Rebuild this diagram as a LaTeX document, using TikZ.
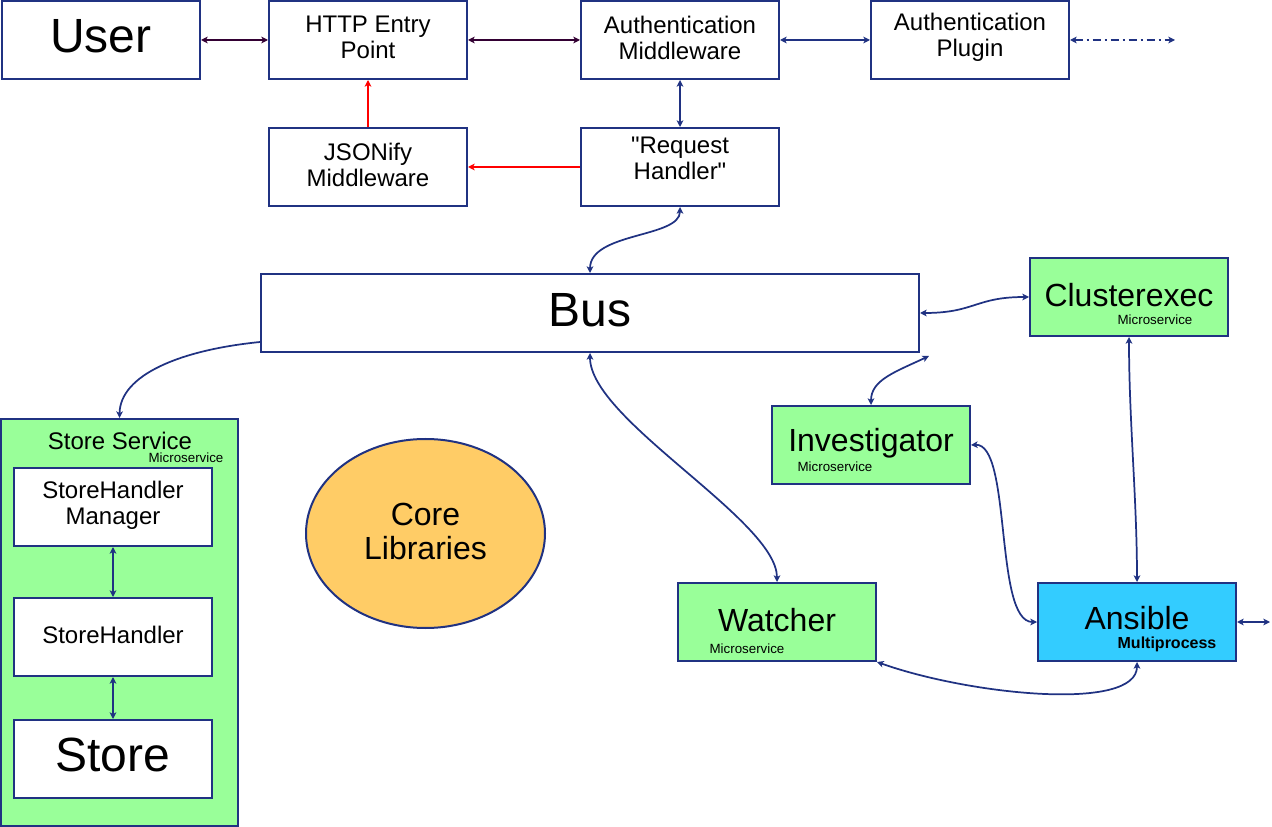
\documentclass[tikz,border=0pt]{standalone}
\usepackage{fontspec}
\setmainfont{Liberation Sans}
\newfontfamily\plainsans{Liberation Sans}
\usetikzlibrary{arrows.meta,shapes.geometric}
\definecolor{navy}{HTML}{203282}
\definecolor{darkpurple}{HTML}{330033}
\definecolor{boxgreen}{HTML}{99FF99}
\definecolor{boxcyan}{HTML}{33CCFF}
\definecolor{boxorange}{HTML}{FFCC66}
\begin{document}
\begin{tikzpicture}[x=0.75pt,y=-0.75pt,
  >={Stealth[length=5pt,width=5pt,inset=1.3pt]},
  box/.style={draw=navy,line width=1.5pt,fill=white,minimum width=148.5pt,minimum height=58.5pt,inner sep=0pt,align=center,font=\fontsize{18pt}{19.5pt}\selectfont},
  bigtext/.style={inner sep=0pt,font=\fontsize{36pt}{40pt}\selectfont},
  midtext/.style={inner sep=0pt,font=\fontsize{24pt}{26pt}\selectfont},
  txt/.style={inner sep=0pt,align=center,font=\fontsize{18pt}{19.5pt}\selectfont},
  sub/.style={inner sep=0pt,font=\fontsize{10pt}{12pt}\selectfont},
  con/.style={draw=navy,line width=1.3pt},
  pcon/.style={draw=darkpurple,line width=1.3pt},
  rcon/.style={draw=red,line width=1.1pt}
]
\useasboundingbox (0,0) rectangle (1272,827);

% top row
\node[box] (user) at (101,40) {};
\node[bigtext] (usert) at (101,36) {User};
\node[box] (http) at (368,40) {};
\node[txt] (httpt) at (368,37.5) {HTTP Entry\\Point};
\node[box] (authmw) at (680,40) {};
\node[txt] (authmwt) at (680,37.5) {Authentication\\Middleware};
\node[box] (authpl) at (970,40) {};
\node[txt] (authplt) at (970,37.5) {Authentication\\Plugin};
\coordinate (plout) at (1175,40);

% second row
\node[box] (json) at (368,167) {};
\node[txt] (jsont) at (368,165) {JSONify\\Middleware};
\node[box] (req) at (680,167) {};
\node[txt] (reqt) at (680,158) {\plainsans "Request\\\plainsans Handler"};

% bus
\node[box,minimum width=493.5pt] (bus) at (590,313) {};
\node[bigtext] (bust) at (590,310) {Bus};

% clusterexec
\node[box,fill=boxgreen] (cluster) at (1129,297) {};
\node[midtext] (clustert) at (1129,295) {Clusterexec};
\node[sub] (clusters) at (1155,320) {Microservice};

% store service
\node[box,fill=boxgreen,minimum width=177.75pt,minimum height=305.25pt] (storesvc) at (119.5,622.5) {};
\node[txt] (storesvct) at (120,441) {Store Service};
\node[sub] (storesvcs) at (186,458) {Microservice};
\node[box] (shm) at (113,507) {};
\node[txt] (shmt) at (113,505) {StoreHandler\\Manager};
\node[box] (sh) at (113,637) {};
\node[txt] (sht) at (113,635) {StoreHandler};
\node[box] (store) at (113,759) {};
\node[bigtext] (storet) at (113,755) {Store};

% core libraries
\node[ellipse,draw=navy,line width=1.5pt,fill=boxorange,minimum width=179.25pt,minimum height=141.75pt,inner sep=0pt] (core) at (425.5,533.5) {};
\node[inner sep=0pt,align=center,font=\fontsize{24pt}{26pt}\selectfont] (coret) at (425.5,531.5) {Core\\Libraries};

% investigator
\node[box,fill=boxgreen] (inv) at (871,445) {};
\node[midtext] (invt) at (871,443) {Investigator};
\node[sub] (invs) at (835,467) {Microservice};

% watcher
\node[box,fill=boxgreen] (watch) at (777,622) {};
\node[midtext] (watcht) at (777,620) {Watcher};
\node[sub] (watchs) at (747,649) {Microservice};

% ansible
\node[box,fill=boxcyan] (ans) at (1137,622) {};
\node[midtext] (anst) at (1137,618) {Ansible};
\node[inner sep=0pt,font=\bfseries\fontsize{12pt}{14pt}\selectfont] (anss) at (1167,644) {Multiprocess};
\coordinate (ansout) at (1270,622);

% connectors
\draw[pcon,<->] (user.east) -- (http.west);
\draw[pcon,<->] (http.east) -- (authmw.west);
\draw[con,<->] (authmw.east) -- (authpl.west);
\draw[con,<->,dash pattern=on 6pt off 3pt on 1.5pt off 3pt] (authpl.east) -- (plout);
\draw[con,<->] (authmw.south) -- (req.north);
\draw[rcon,->] (req.west) -- (json.east);
\draw[rcon,->] (json.north) -- (http.south);
\draw[con,<->] (req.south) .. controls (680,238) and (590,232) .. (bus.north);
\draw[con,<->] (bus.east) .. controls (975,313) and (975,297) .. (cluster.west);
\draw[con,<->] ([shift={(9,3)}]bus.south east) .. controls (895,372) and (871,380) .. (inv.north);
\draw[con,<->] (bus.south) .. controls (590,420) and (777,520) .. (watch.north);
\draw[con,->] ([shift={(0,-11)}]bus.south west) .. controls (180,350) and (120,375) .. (storesvc.north);
\draw[con,<->] (cluster.south) .. controls (1129,420) and (1137,500) .. (ans.north);
\draw[con,<->] (inv.east) .. controls (1012,443) and (994,622) .. (ans.west);
\draw[con,<->] (watch.south east) .. controls (970,695) and (1137,712) .. (ans.south);
\draw[con,<->] (shm.south) -- (sh.north);
\draw[con,<->] (sh.south) -- (store.north);
\draw[con,<->] (ans.east) -- (ansout);
\end{tikzpicture}
\end{document}
